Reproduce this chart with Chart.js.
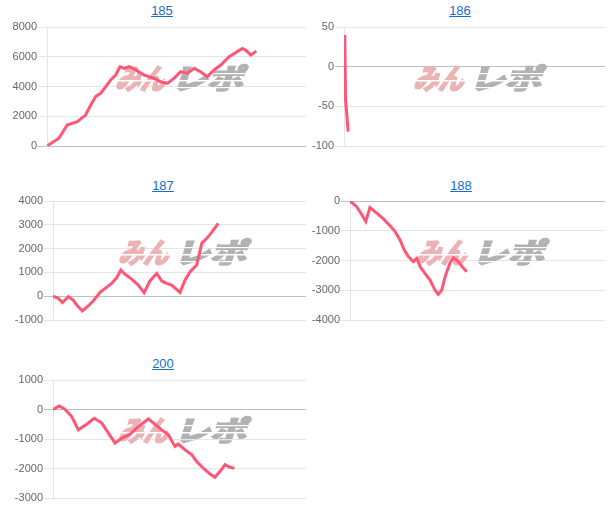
<!DOCTYPE html>
<html>
<head>
<meta charset="utf-8">
<script src="https://cdn.jsdelivr.net/npm/chart.js@4/dist/chart.umd.min.js"></script>
<style>
  body { margin: 0; background: #fff; width: 609px; height: 522px; position: relative; overflow: hidden;
         font-family: Arial, "Liberation Sans", sans-serif; }
  .ttl { position: absolute; width: 120px; text-align: center; font-size: 13px; line-height: 16px; }
  .ttl a { color: #1a6dcc; text-decoration: underline; }
  canvas { position: absolute; }
</style>
</head>
<body>
<script>
const XMAX = 10000;          // games shown on the (hidden) x axis

const machines = ['185', '186', '187', '188', '200'];

const games185 = [0, 460, 780, 1170, 1490, 1690, 1880, 2070, 2270, 2460, 2650, 2820, 2970, 3170, 3430, 3750, 4130,
  4390, 4650, 4900, 5160, 5420, 5680, 5930, 6190, 6450, 6710, 7030, 7290, 7540, 7670, 7870, 8080];
const diff185 = [0, 520, 1410, 1640, 2080, 2750, 3320, 3540, 3990, 4440, 4770, 5330, 5220, 5330, 5110, 4770, 4550,
  4320, 4210, 4550, 4990, 4880, 5220, 4990, 4660, 5110, 5440, 6000, 6290, 6560, 6450, 6110, 6380];
const ticks185 = [0, 2000, 4000, 6000, 8000];

const games186 = [0, 30, 60, 160];
const diff186 = [0, 40, -42, -82];
const ticks186 = [-100, -50, 0, 50];

const games187 = [0, 210, 370, 610, 800, 940, 1160, 1400, 1590, 1860, 2060, 2320, 2520, 2680, 2850, 3110, 3370,
  3600, 3830, 4100, 4300, 4490, 4690, 5020, 5220, 5420, 5680, 5880, 6080, 6270, 6530];
const diff187 = [0, -90, -270, -20, -160, -370, -620, -400, -200, 160, 330, 540, 780, 1100, 920, 720, 470,
  150, 640, 960, 640, 540, 470, 160, 680, 1030, 1310, 2220, 2430, 2680, 3060];
const ticks187 = [-1000, 0, 1000, 2000, 3000, 4000];

const games188 = [0, 260, 430, 620, 780, 1050, 1310, 1570, 1770, 1960, 2130, 2290, 2480, 2620, 2750, 2940, 3140,
  3330, 3460, 3600, 3730, 3920, 4050, 4250, 4400, 4580];
const diff188 = [0, -190, -410, -690, -220, -410, -600, -830, -1030, -1310, -1650, -1870, -2040, -1930, -2210, -2430, -2660,
  -2990, -3140, -2990, -2540, -2090, -1900, -2040, -2210, -2380];
const ticks188 = [-4000, -3000, -2000, -1000, 0];

const games200 = [0, 250, 470, 740, 1000, 1330, 1630, 1930, 2190, 2450, 2720, 3040, 3370, 3770, 4030, 4300, 4560,
  4820, 4950, 5220, 5480, 5680, 5940, 6210, 6400, 6600, 6800, 7000, 7170];
const diff200 = [0, 120, 10, -240, -690, -500, -300, -460, -800, -1140, -970, -840, -580, -320, -500, -690, -860,
  -1250, -1170, -1370, -1530, -1760, -1990, -2190, -2300, -2100, -1870, -1960, -1990];
const ticks200 = [-3000, -2000, -1000, 0, 1000];

const series = [
  { games: games185, diff: diff185, ticks: ticks185 },
  { games: games186, diff: diff186, ticks: ticks186 },
  { games: games187, diff: diff187, ticks: ticks187 },
  { games: games188, diff: diff188, ticks: ticks188 },
  { games: games200, diff: diff200, ticks: ticks200 },
];

// canvas boxes and y axis widths, one per panel
const boxes = [
  { left: 12,  top: 19,  w: 294, h: 135, axisW: 35, titleX: 162, titleY: 11 },
  { left: 310, top: 19,  w: 295, h: 135, axisW: 34, titleX: 460, titleY: 11 },
  { left: 12,  top: 193, w: 294, h: 135, axisW: 41, titleX: 163, titleY: 186 },
  { left: 310, top: 193, w: 295, h: 135, axisW: 40, titleX: 461, titleY: 186 },
  { left: 12,  top: 372, w: 294, h: 134, axisW: 41, titleX: 163, titleY: 364 },
];

const logo = makeLogo();

const watermark = {
  id: 'watermark',
  beforeDatasetsDraw(chart) {
    const a = chart.chartArea;
    const cx = (a.left + a.right) / 2;
    const cy = (a.top + a.bottom) / 2 - 8;
    chart.ctx.drawImage(logo, Math.round(cx - logo.width / 2), Math.round(cy - logo.height / 2));
  }
};

machines.forEach((no, i) => drawPanel(no, series[i], boxes[i]));


function makeLogo() {
  const c = document.createElement('canvas');
  c.width = 150;
  c.height = 34;
  const g = c.getContext('2d');
  drawFit(g, 'みん', 12, 50, '#ebb3b6');
  drawFit(g, 'レポ', 68, 72, '#b2b2b2');
  // speed lines cut through the letters
  g.globalCompositeOperation = 'destination-out';
  g.fillStyle = '#000';
  g.fillRect(0, 18, 150, 1.5);
  g.fillRect(66, 11, 84, 1.2);
  g.fillRect(66, 25, 84, 1.2);
  return c;
}

function drawFit(g, text, x0, width, color) {
  g.save();
  g.font = 'bold 28px "Noto Sans CJK JP", sans-serif';
  const m = g.measureText(text).width;
  g.translate(x0, 30);
  g.transform(1, 0, -0.3, 1, 0, 0);
  g.scale(width / m, 1);
  g.fillStyle = color;
  g.strokeStyle = color;
  g.lineWidth = 2.2;
  g.lineJoin = 'miter';
  g.fillText(text, 0, -3);
  g.strokeText(text, 0, -3);
  g.restore();
}

function drawPanel(no, s, box) {
  const t = document.createElement('div');
  t.className = 'ttl';
  t.style.left = (box.titleX - 60) + 'px';
  t.style.top = (box.titleY - 8) + 'px';
  t.innerHTML = `<a href="#">${no}</a>`;
  document.body.appendChild(t);

  const cv = document.createElement('canvas');
  cv.width = box.w;
  cv.height = box.h;
  cv.style.left = box.left + 'px';
  cv.style.top = box.top + 'px';
  document.body.appendChild(cv);

  const ticks = s.ticks;
  new Chart(cv, {
    type: 'line',
    data: {
      datasets: [{
        label: no,
        data: s.games.map((g, k) => ({ x: g, y: s.diff[k] })),
        borderColor: 'rgb(255, 86, 118)',
        borderWidth: 3,
        pointRadius: 0,
        fill: false,
        tension: 0
      }]
    },
    options: {
      responsive: false,
      animation: false,
      layout: { padding: { top: 8, bottom: 8, left: 0, right: 0 } },
      plugins: { legend: { display: false }, tooltip: { enabled: false } },
      scales: {
        x: { type: 'linear', min: 0, max: XMAX, display: false },
        y: {
          min: ticks[0],
          max: ticks[ticks.length - 1],
          afterFit: (scale) => { scale.width = box.axisW; },
          grid: {
            color: (c) => (c.tick && c.tick.value === 0) ? 'rgba(0,0,0,0.25)' : 'rgba(0,0,0,0.1)',
            tickLength: 9
          },
          border: { color: 'rgba(0,0,0,0.1)' },
          ticks: {
            stepSize: ticks[1] - ticks[0],
            padding: 1,
            color: '#666',
            font: { family: "'Helvetica Neue', Helvetica, Arial, sans-serif", size: 11 },
            callback: (v) => String(v)
          }
        }
      }
    },
    plugins: [watermark]
  });
}
</script>
</body>
</html>
